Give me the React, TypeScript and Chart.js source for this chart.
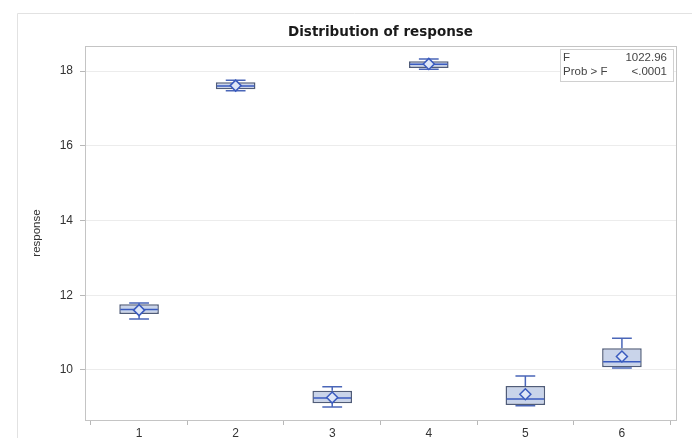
import React, { useEffect, useRef } from "react";
import { Chart, registerables } from "chart.js";

Chart.register(...registerables);

const groups = [1, 2, 3, 4, 5, 6];
const mins = [11.36, 17.47, 9.01, 18.05, 9.04, 10.05];
const q1s = [11.5, 17.51, 9.11, 18.08, 9.06, 10.07];
const medians = [11.62, 17.6, 9.25, 18.18, 9.22, 10.22];
const q3s = [11.76, 17.7, 9.44, 18.26, 9.57, 10.58];
const maxs = [11.79, 17.75, 9.55, 18.32, 9.84, 10.85];
const means = [11.6, 17.61, 9.26, 18.19, 9.35, 10.36];
const yTicks = [10, 12, 14, 16, 18];
const statLabels = ["F", "Prob > F"];
const statValues = ["1022.96", "<.0001"];

const FONT = "'Liberation Sans', Arial, sans-serif";
const TITLE_FONT = "'DejaVu Sans', Verdana, sans-serif";

const boxPlugin = {
  id: "boxExtras",
  beforeDraw(chart: any) {
    const ctx = chart.ctx;
    ctx.save();
    ctx.strokeStyle = "#e2e2e2";
    ctx.lineWidth = 1;
    ctx.beginPath();
    ctx.moveTo(17.5, chart.height);
    ctx.lineTo(17.5, 13.5);
    ctx.lineTo(chart.width, 13.5);
    ctx.stroke();
    ctx.restore();
  },
  beforeDatasetsDraw(chart: any) {
    const ctx = chart.ctx;
    const xs = chart.scales.x;
    const ys = chart.scales.y;
    ctx.save();
    ctx.strokeStyle = "#4a66b8";
    ctx.lineWidth = 1.5;
    groups.forEach((g, i) => {
      const x = xs.getPixelForValue(g);
      const half = (xs.getPixelForValue(g + 0.41) - xs.getPixelForValue(g)) / 4;
      const yMax = ys.getPixelForValue(maxs[i]);
      const yMin = ys.getPixelForValue(mins[i]);
      const yQ1 = ys.getPixelForValue(q1s[i]);
      const yQ3 = ys.getPixelForValue(q3s[i]);
      ctx.beginPath();
      ctx.moveTo(x, yQ3);
      ctx.lineTo(x, yMax);
      ctx.moveTo(x - half, yMax);
      ctx.lineTo(x + half, yMax);
      ctx.moveTo(x, yQ1);
      ctx.lineTo(x, yMin);
      ctx.moveTo(x - half, yMin);
      ctx.lineTo(x + half, yMin);
      ctx.stroke();
    });
    ctx.restore();
  },
  afterDatasetDraw(chart: any, args: any) {
    if (args.index !== 0) return;
    const ctx = chart.ctx;
    const xs = chart.scales.x;
    const ys = chart.scales.y;
    ctx.save();
    ctx.strokeStyle = "#3a5bbf";
    ctx.lineWidth = 1.5;
    groups.forEach((g, i) => {
      const x0 = xs.getPixelForValue(g - 0.205);
      const x1 = xs.getPixelForValue(g + 0.205);
      const y = ys.getPixelForValue(medians[i]);
      ctx.beginPath();
      ctx.moveTo(x0 + 1, y);
      ctx.lineTo(x1 - 1, y);
      ctx.stroke();
    });
    ctx.restore();
  },
  afterDraw(chart: any) {
    const ctx = chart.ctx;
    const a = chart.chartArea;
    ctx.save();
    ctx.strokeStyle = "#c4c4c4";
    ctx.lineWidth = 1;
    ctx.strokeRect(Math.round(a.left) + 0.5, Math.round(a.top) + 0.5, Math.round(a.right - a.left), Math.round(a.bottom - a.top));
    // inset stats table
    const bx = a.right - 116;
    const by = a.top + 3;
    const bw = 113;
    const bh = 32;
    ctx.fillStyle = "#ffffff";
    ctx.fillRect(bx, by, bw, bh);
    ctx.strokeStyle = "#d0d0d0";
    ctx.strokeRect(bx + 0.5, by + 0.5, bw, bh);
    ctx.fillStyle = "#444444";
    ctx.font = `11.5px ${FONT}`;
    ctx.textBaseline = "middle";
    statLabels.forEach((lab, i) => {
      const ty = by + 9 + i * 14;
      ctx.textAlign = "left";
      ctx.fillText(lab, bx + 3, ty);
      ctx.textAlign = "right";
      ctx.fillText(statValues[i], bx + bw - 6, ty);
    });
    ctx.restore();
  },
};

export default function App() {
  const ref = useRef<HTMLCanvasElement | null>(null);
  useEffect(() => {
    if (!ref.current) return;
    const chart = new Chart(ref.current, {
      type: "bar",
      data: {
        datasets: [
          {
            type: "bar",
            order: 2,
            data: groups.map((g, i) => ({ x: g, y: [q1s[i], q3s[i]] })) as any,
            backgroundColor: "#c9d4ea",
            borderColor: "#505c78",
            borderWidth: 1.5,
            borderSkipped: false,
            barPercentage: 0.41,
            categoryPercentage: 1,
          } as any,
          {
            type: "scatter",
            order: 1,
            data: groups.map((g, i) => ({ x: g, y: means[i] })),
            pointStyle: "rectRot",
            pointRadius: 5.5,
            pointBackgroundColor: "#dfe7f7",
            pointBorderColor: "#3a5bbf",
            pointBorderWidth: 1.5,
          } as any,
        ],
      },
      options: {
        animation: false,
        responsive: false,
        maintainAspectRatio: false,
        layout: { padding: { left: 27, right: 16, top: 24.8, bottom: 0 } },
        plugins: {
          legend: { display: false },
          tooltip: { enabled: false },
          title: {
            display: true,
            text: "Distribution of response",
            fullSize: false,
            color: "#1a1a1a",
            font: { family: TITLE_FONT, size: 13.5, weight: "bold" },
            padding: { top: 0, bottom: 5 },
          },
        },
        scales: {
          x: {
            type: "linear",
            min: 0.44,
            max: 6.56,
            offset: false,
            afterBuildTicks: (s: any) => {
              s.ticks = groups.map((v) => ({ value: v }));
            },
            afterFit: (s: any) => {
              s.height = 18;
            },
            grid: { drawOnChartArea: false, tickLength: 5, color: "#b8b8b8" },
            border: { color: "#c4c4c4" },
            ticks: { color: "#333333", font: { family: FONT, size: 12 }, padding: 1 },
          },
          y: {
            type: "linear",
            min: 8.66,
            max: 18.67,
            afterBuildTicks: (s: any) => {
              s.ticks = yTicks.map((v) => ({ value: v }));
            },
            afterFit: (s: any) => {
              s.width = 58;
            },
            grid: { color: "#ececec", tickLength: 5, tickColor: "#b8b8b8" },
            border: { color: "#c4c4c4" },
            ticks: { color: "#333333", font: { family: FONT, size: 12 }, padding: 7 },
            title: {
              display: true,
              text: "response",
              color: "#333333",
              font: { family: FONT, size: 11.5 },
              padding: { top: 3, bottom: 4 },
            },
          },
        },
      } as any,
      plugins: [boxPlugin],
    });
    return () => chart.destroy();
  }, []);
  return (
    <div style={{ position: "fixed", left: 0, top: 0, width: 692, height: 438, background: "#fff" }}>
      <canvas ref={ref} width={692} height={438} style={{ width: 692, height: 438 }} />
    </div>
  );
}
